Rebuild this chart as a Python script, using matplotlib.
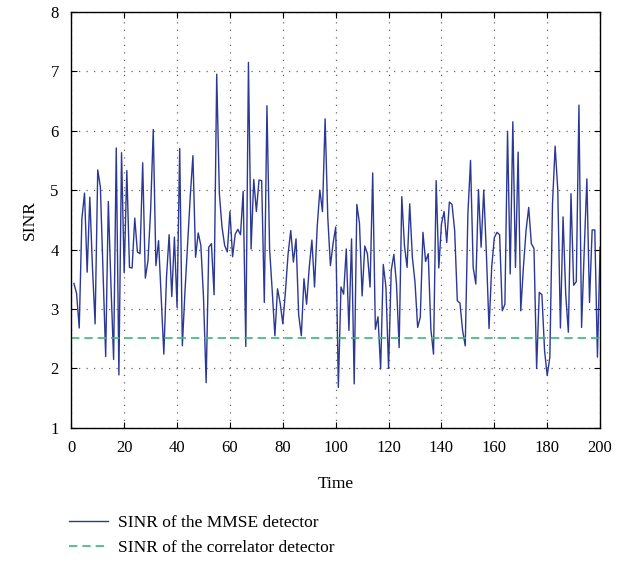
import numpy as np
import matplotlib
matplotlib.use('Agg')
import matplotlib.pyplot as plt

plt.rcParams['font.family'] = ['Liberation Serif', 'DejaVu Serif']

time = np.arange(1, 201)
sinr_mmse = [
    3.43, 3.26, 2.68, 4.52, 4.95, 3.62, 4.88, 3.70, 2.75, 5.34,
    5.05, 3.60, 2.20, 4.81, 3.40, 2.15, 5.71, 1.89, 5.63, 3.61,
    5.33, 3.70, 3.69, 4.53, 3.96, 3.93, 5.46, 3.52, 3.81, 4.66,
    6.02, 3.73, 4.15, 3.20, 2.24, 3.53, 4.25, 3.21, 4.21, 3.03,
    5.70, 2.38, 3.30, 4.10, 4.90, 5.58, 3.87, 4.28, 4.07, 3.20,
    1.76, 4.04, 4.10, 3.24, 6.95, 4.94, 4.38, 4.07, 3.96, 4.64,
    3.88, 4.26, 4.34, 4.25, 4.98, 2.37, 7.15, 4.01, 5.18, 4.64,
    5.17, 5.16, 3.11, 6.42, 4.01, 3.30, 2.55, 3.34, 3.10, 2.75,
    3.30, 3.93, 4.32, 3.79, 4.18, 2.90, 2.55, 3.51, 3.08, 3.70,
    4.16, 3.37, 4.38, 5.00, 4.64, 6.20, 4.55, 3.73, 4.10, 4.38,
    1.68, 3.37, 3.25, 4.01, 2.64, 4.18, 1.74, 4.76, 4.44, 3.22,
    4.06, 3.93, 3.37, 5.29, 2.66, 2.87, 1.99, 3.75, 3.37, 2.00,
    3.65, 3.92, 3.42, 2.35, 4.89, 4.07, 3.70, 4.77, 3.87, 3.45,
    2.69, 2.86, 4.29, 3.80, 3.93, 2.66, 2.24, 5.16, 3.69, 4.43,
    4.64, 4.12, 4.80, 4.76, 4.32, 3.14, 3.10, 2.64, 2.38, 4.60,
    5.50, 3.70, 3.42, 5.01, 4.04, 5.00, 3.93, 2.67, 3.70, 4.20,
    4.29, 4.25, 2.97, 3.08, 5.99, 3.59, 6.15, 3.70, 5.64, 2.97,
    3.70, 4.32, 4.71, 4.10, 4.02, 2.00, 3.28, 3.24, 2.30, 1.88,
    2.19, 4.77, 5.74, 5.00, 2.68, 4.55, 3.25, 2.61, 4.94, 3.40,
    3.46, 6.43, 2.69, 3.98, 5.19, 3.11, 4.33, 4.33, 2.19, 4.04,
]
sinr_corr = 2.52

fig = plt.figure(figsize=(6.31, 5.63), dpi=100)
ax = fig.add_axes([0.113, 0.240, 0.838, 0.739])

ax.plot(time, sinr_mmse, color='#2b3896', linewidth=1.0, label='SINR of the MMSE detector')
ax.plot([0, 200], [sinr_corr, sinr_corr], color='#3cb878', linewidth=1.2,
        linestyle=(0, (5, 3)), label='SINR of the correlator detector')

ax.set_xlim(0, 200)
ax.set_ylim(1, 8)
ax.set_xticks(np.arange(0, 201, 20))
ax.set_yticks(np.arange(1, 9, 1))
ax.grid(True, linestyle=(0, (1, 5)), color='#666666', linewidth=0.9)
ax.tick_params(direction='in', top=True, right=True, labelsize=12, length=4, pad=9)
for s in ax.spines.values():
    s.set_linewidth(1.0)
ax.set_xlabel('Time', fontsize=12.5, labelpad=14)
ax.set_ylabel('SINR', fontsize=12.5, labelpad=9)

fig.legend(loc='upper left', bbox_to_anchor=(0.11, 0.085), frameon=False,
           fontsize=12.5, handlelength=2.2, handletextpad=0.6, labelspacing=0.5,
           borderpad=0, borderaxespad=0)

fig.savefig('out.png', dpi=100)
